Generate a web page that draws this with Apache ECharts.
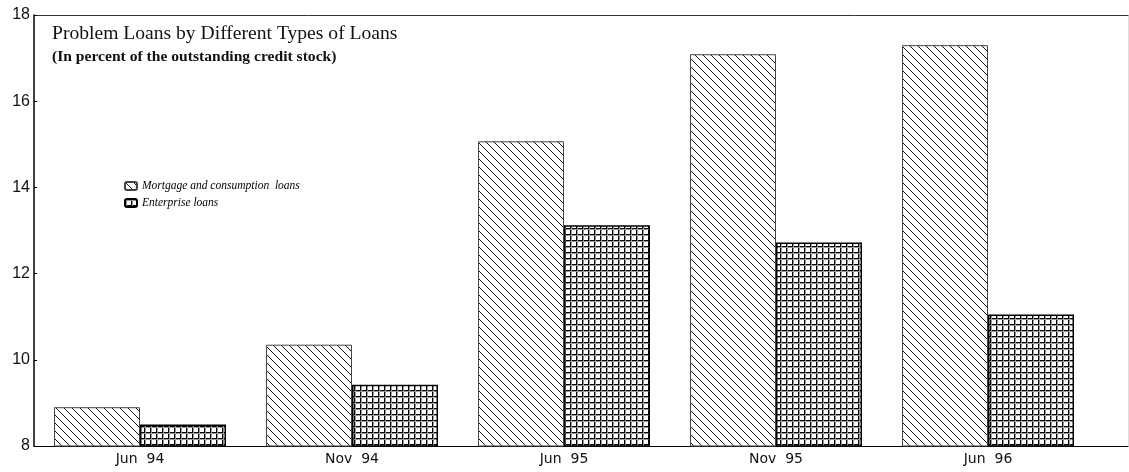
<!DOCTYPE html>
<html>
<head>
<meta charset="utf-8">
<script src="https://cdn.jsdelivr.net/npm/echarts@6/dist/echarts.min.js"></script>
<style>html,body{margin:0;padding:0;background:#fff;}#c{width:1129px;height:472px;}</style>
</head>
<body>
<div id="c"></div>
<script>
var categories = ['Jun 94', 'Nov 94', 'Jun 95', 'Nov 95', 'Jun 96'];
var mortgage = [8.9, 10.35, 15.07, 17.09, 17.3];
var enterprise = [8.5, 9.42, 13.12, 12.72, 11.05];
var yTicks = [8, 10, 12, 14, 16, 18];

function diagPattern() {
  var s = 8, c = document.createElement('canvas');
  c.width = s; c.height = s;
  var g = c.getContext('2d');
  g.fillStyle = '#fff'; g.fillRect(0, 0, s, s);
  g.strokeStyle = '#111'; g.lineWidth = 1;
  g.beginPath();
  g.moveTo(-1, -1); g.lineTo(s + 1, s + 1);
  g.moveTo(-1, s - 1); g.lineTo(1, s + 1);
  g.moveTo(s - 1, -1); g.lineTo(s + 1, 1);
  g.stroke();
  return c;
}
function gridPattern() {
  var s = 6, c = document.createElement('canvas');
  c.width = s; c.height = s;
  var g = c.getContext('2d');
  g.fillStyle = '#fff'; g.fillRect(0, 0, s, s);
  g.fillStyle = '#000';
  g.fillRect(0, 0, s, 1); g.fillRect(0, 0, 1, s);
  g.fillStyle = '#999';
  g.fillRect(0, 1, s, 1); g.fillRect(1, 0, 1, s);
  return c;
}

var chart = echarts.init(document.getElementById('c'));
chart.setOption({
  animation: false,
  backgroundColor: '#fff',
  title: {
    text: 'Problem Loans by Different Types of Loans',
    subtext: '(In percent of the outstanding credit stock)',
    left: 47, top: 19, itemGap: 5,
    textStyle: { fontFamily: 'Liberation Serif', fontSize: 19.6, fontWeight: 'normal', color: '#111' },
    subtextStyle: { fontFamily: 'Liberation Serif', fontSize: 15.6, fontWeight: 'bold', color: '#111' }
  },
  legend: {
    orient: 'vertical', left: 119, top: 175, itemGap: 5,
    itemWidth: 12, itemHeight: 8,
    textStyle: { fontFamily: 'Liberation Serif', fontStyle: 'italic', fontWeight: 'normal', fontSize: 11.5, color: '#000' },
    data: ['Mortgage and consumption  loans', 'Enterprise loans']
  },
  grid: [
    { left: 34, right: 35, top: 15, bottom: 26 },
    { left: 34, right: 1, top: 15, bottom: 26 }
  ],
  xAxis: [
    {
      type: 'category', gridIndex: 0, data: categories,
      axisLine: { lineStyle: { color: '#000', width: 1 } },
      axisTick: { inside: true, length: 5, lineStyle: { color: '#000' } },
      axisLabel: {
        fontFamily: 'DejaVu Sans', fontSize: 14, color: '#111', margin: 6,
        formatter: function (v) { return v.replace(' ', '  '); }
      }
    },
    {
      type: 'value', gridIndex: 1, position: 'bottom', min: 0, max: 1,
      axisLine: { show: true, onZero: false, lineStyle: { color: '#000' } },
      axisTick: { show: false }, axisLabel: { show: false }, splitLine: { show: false }
    },
    {
      type: 'value', gridIndex: 1, position: 'top', min: 0, max: 1,
      axisLine: { show: true, onZero: false, lineStyle: { color: '#333' } },
      axisTick: { show: false }, axisLabel: { show: false }, splitLine: { show: false }
    }
  ],
  yAxis: [
    {
      type: 'value', gridIndex: 0, min: yTicks[0], max: yTicks[yTicks.length - 1], interval: 2,
      axisLine: { show: true, lineStyle: { color: '#000', width: 1.5 } },
      axisTick: { show: true, inside: true, length: 3, lineStyle: { color: '#000' } },
      axisLabel: { fontFamily: 'Liberation Sans', fontSize: 16, color: '#111', margin: 4 },
      splitLine: { show: false }
    },
    {
      type: 'value', gridIndex: 1, position: 'right', min: 0, max: 1,
      axisLine: { show: true, onZero: false, lineStyle: { color: '#ddd' } },
      axisTick: { show: false }, axisLabel: { show: false }, splitLine: { show: false }
    }
  ],
  series: [
    {
      name: 'Mortgage and consumption  loans', type: 'bar', xAxisIndex: 0, yAxisIndex: 0,
      data: mortgage, barWidth: 86, barGap: '0%',
      itemStyle: { color: { image: diagPattern(), repeat: 'repeat' }, borderColor: '#444', borderWidth: 1 }
    },
    {
      name: 'Enterprise loans', type: 'bar', xAxisIndex: 0, yAxisIndex: 0,
      data: enterprise, barWidth: 86, barGap: '0%',
      itemStyle: { color: { image: gridPattern(), repeat: 'repeat' }, borderColor: '#000', borderWidth: 1.5 }
    }
  ]
});
</script>
</body>
</html>
